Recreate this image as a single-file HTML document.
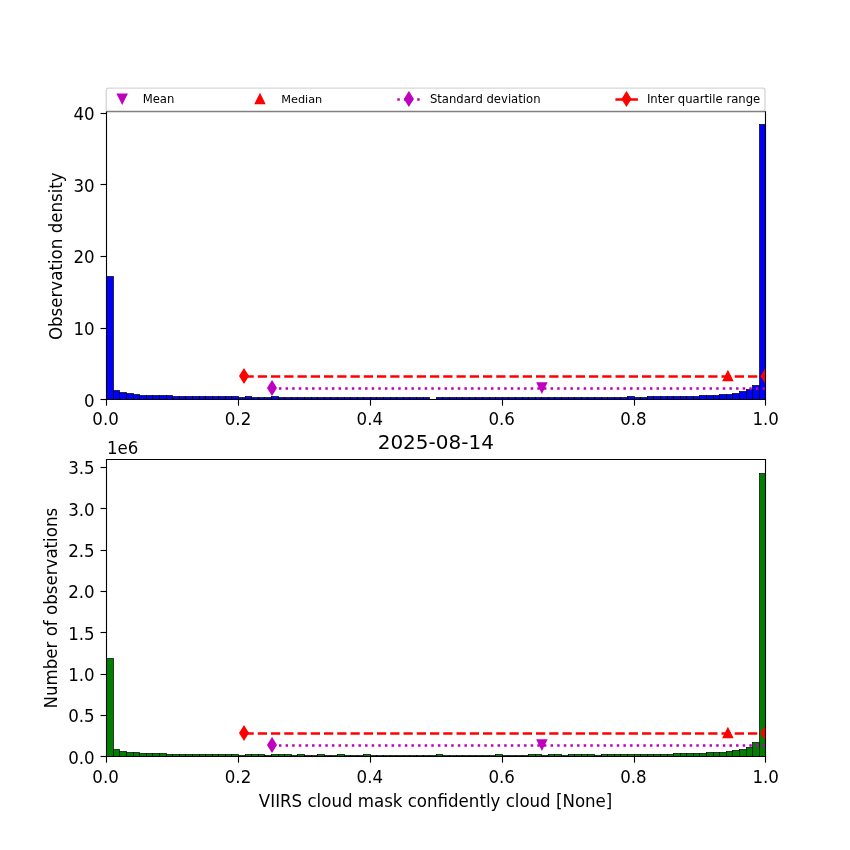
<!DOCTYPE html>
<html lang="en"><head><meta charset="utf-8"><title>VIIRS cloud mask confidently cloud histogram</title>
<style>html,body{margin:0;padding:0;background:#fff;overflow:hidden}svg{display:block}text{font-family:'DejaVu Sans','Liberation Sans',sans-serif;fill:#000}</style></head><body>
<svg width="850" height="850" viewBox="0 0 850 850">
<rect x="0" y="0" width="850" height="850" fill="#fff"/>
<defs>
<clipPath id="c1"><rect x="106.25" y="110.925" width="658.75" height="288.575"/></clipPath>
<clipPath id="c2"><rect x="106.25" y="459" width="658.75" height="297.5"/></clipPath>
</defs>
<g fill="#0000ff" stroke="#000" stroke-width="0.694" stroke-linejoin="miter" clip-path="url(#c1)">
<rect x="106.5" y="276.5" width="7.0" height="123.0"/>
<rect x="113.5" y="390.5" width="6.0" height="9.0"/>
<rect x="119.5" y="392.5" width="7.0" height="7.0"/>
<rect x="126.5" y="393.5" width="7.0" height="6.0"/>
<rect x="133.5" y="394.5" width="6.0" height="5.0"/>
<rect x="139.5" y="395.5" width="7.0" height="4.0"/>
<rect x="146.5" y="395.5" width="6.0" height="4.0"/>
<rect x="152.5" y="395.5" width="7.0" height="4.0"/>
<rect x="159.5" y="395.5" width="7.0" height="4.0"/>
<rect x="166.5" y="395.5" width="6.0" height="4.0"/>
<rect x="172.5" y="396.5" width="7.0" height="3.0"/>
<rect x="179.5" y="396.5" width="6.0" height="3.0"/>
<rect x="185.5" y="396.5" width="7.0" height="3.0"/>
<rect x="192.5" y="396.5" width="7.0" height="3.0"/>
<rect x="199.5" y="396.5" width="6.0" height="3.0"/>
<rect x="205.5" y="396.5" width="7.0" height="3.0"/>
<rect x="212.5" y="396.5" width="6.0" height="3.0"/>
<rect x="218.5" y="396.5" width="7.0" height="3.0"/>
<rect x="225.5" y="396.5" width="6.0" height="3.0"/>
<rect x="231.5" y="396.5" width="7.0" height="3.0"/>
<rect x="238.5" y="397.5" width="7.0" height="2.0"/>
<rect x="245.5" y="396.5" width="6.0" height="3.0"/>
<rect x="251.5" y="397.5" width="7.0" height="2.0"/>
<rect x="258.5" y="397.5" width="6.0" height="2.0"/>
<rect x="264.5" y="397.5" width="7.0" height="2.0"/>
<rect x="271.5" y="396.5" width="7.0" height="3.0"/>
<rect x="278.5" y="397.5" width="6.0" height="2.0"/>
<rect x="284.5" y="397.5" width="7.0" height="2.0"/>
<rect x="291.5" y="397.5" width="6.0" height="2.0"/>
<rect x="297.5" y="397.5" width="7.0" height="2.0"/>
<rect x="304.5" y="397.5" width="7.0" height="2.0"/>
<rect x="311.5" y="397.5" width="6.0" height="2.0"/>
<rect x="317.5" y="397.5" width="7.0" height="2.0"/>
<rect x="324.5" y="397.5" width="6.0" height="2.0"/>
<rect x="330.5" y="397.5" width="7.0" height="2.0"/>
<rect x="337.5" y="397.5" width="7.0" height="2.0"/>
<rect x="344.5" y="397.5" width="6.0" height="2.0"/>
<rect x="350.5" y="397.5" width="7.0" height="2.0"/>
<rect x="357.5" y="397.5" width="6.0" height="2.0"/>
<rect x="363.5" y="397.5" width="7.0" height="2.0"/>
<rect x="370.5" y="397.5" width="6.0" height="2.0"/>
<rect x="376.5" y="397.5" width="7.0" height="2.0"/>
<rect x="383.5" y="397.5" width="7.0" height="2.0"/>
<rect x="390.5" y="397.5" width="6.0" height="2.0"/>
<rect x="396.5" y="397.5" width="7.0" height="2.0"/>
<rect x="403.5" y="397.5" width="6.0" height="2.0"/>
<rect x="409.5" y="397.5" width="7.0" height="2.0"/>
<rect x="416.5" y="397.5" width="7.0" height="2.0"/>
<rect x="423.5" y="397.5" width="6.0" height="2.0"/>
<rect x="436.5" y="397.5" width="6.0" height="2.0"/>
<rect x="442.5" y="397.5" width="7.0" height="2.0"/>
<rect x="449.5" y="397.5" width="7.0" height="2.0"/>
<rect x="456.5" y="397.5" width="6.0" height="2.0"/>
<rect x="462.5" y="397.5" width="7.0" height="2.0"/>
<rect x="469.5" y="397.5" width="6.0" height="2.0"/>
<rect x="475.5" y="397.5" width="7.0" height="2.0"/>
<rect x="482.5" y="397.5" width="7.0" height="2.0"/>
<rect x="489.5" y="397.5" width="6.0" height="2.0"/>
<rect x="495.5" y="397.5" width="7.0" height="2.0"/>
<rect x="502.5" y="397.5" width="6.0" height="2.0"/>
<rect x="508.5" y="397.5" width="7.0" height="2.0"/>
<rect x="515.5" y="397.5" width="7.0" height="2.0"/>
<rect x="522.5" y="397.5" width="6.0" height="2.0"/>
<rect x="528.5" y="397.5" width="7.0" height="2.0"/>
<rect x="535.5" y="397.5" width="6.0" height="2.0"/>
<rect x="541.5" y="397.5" width="7.0" height="2.0"/>
<rect x="548.5" y="397.5" width="6.0" height="2.0"/>
<rect x="554.5" y="397.5" width="7.0" height="2.0"/>
<rect x="561.5" y="397.5" width="7.0" height="2.0"/>
<rect x="568.5" y="397.5" width="6.0" height="2.0"/>
<rect x="574.5" y="397.5" width="7.0" height="2.0"/>
<rect x="581.5" y="397.5" width="6.0" height="2.0"/>
<rect x="587.5" y="397.5" width="7.0" height="2.0"/>
<rect x="594.5" y="397.5" width="7.0" height="2.0"/>
<rect x="601.5" y="397.5" width="6.0" height="2.0"/>
<rect x="607.5" y="397.5" width="7.0" height="2.0"/>
<rect x="614.5" y="397.5" width="6.0" height="2.0"/>
<rect x="620.5" y="397.5" width="7.0" height="2.0"/>
<rect x="627.5" y="396.5" width="7.0" height="3.0"/>
<rect x="634.5" y="397.5" width="6.0" height="2.0"/>
<rect x="640.5" y="397.5" width="7.0" height="2.0"/>
<rect x="647.5" y="396.5" width="6.0" height="3.0"/>
<rect x="653.5" y="396.5" width="7.0" height="3.0"/>
<rect x="660.5" y="396.5" width="7.0" height="3.0"/>
<rect x="667.5" y="396.5" width="6.0" height="3.0"/>
<rect x="673.5" y="396.5" width="7.0" height="3.0"/>
<rect x="680.5" y="396.5" width="6.0" height="3.0"/>
<rect x="686.5" y="396.5" width="7.0" height="3.0"/>
<rect x="693.5" y="396.5" width="6.0" height="3.0"/>
<rect x="699.5" y="395.5" width="7.0" height="4.0"/>
<rect x="706.5" y="395.5" width="7.0" height="4.0"/>
<rect x="713.5" y="395.5" width="6.0" height="4.0"/>
<rect x="719.5" y="394.5" width="7.0" height="5.0"/>
<rect x="726.5" y="394.5" width="6.0" height="5.0"/>
<rect x="732.5" y="393.5" width="7.0" height="6.0"/>
<rect x="739.5" y="391.5" width="7.0" height="8.0"/>
<rect x="746.5" y="389.5" width="6.0" height="10.0"/>
<rect x="752.5" y="385.5" width="7.0" height="14.0"/>
<rect x="759.5" y="124.5" width="6.0" height="275.0"/>
</g>
<g clip-path="url(#c1)">
<path d="M541.90 392.35L537.25 383.05L546.55 383.05Z" fill="#bf00bf" stroke="#bf00bf" stroke-width="1.389" stroke-linejoin="miter" stroke-miterlimit="10"/>
<path d="M727.90 371.35L723.25 380.65L732.55 380.65Z" fill="#ff0000" stroke="#ff0000" stroke-width="1.389" stroke-linejoin="miter" stroke-miterlimit="10"/>
<path d="M272.30 388.50H811.53" fill="none" stroke="#bf00bf" stroke-width="2.50" stroke-dasharray="2.5 4.125"/>
<path d="M272.00 381.20L276.20 387.90L272.00 394.60L267.80 387.90Z" fill="#bf00bf" stroke="#bf00bf" stroke-width="1.389" stroke-linejoin="miter" stroke-miterlimit="10"/>
<path d="M244.50 376.40H765.39" fill="none" stroke="#ff0000" stroke-width="2.50" stroke-dasharray="9.25 4"/>
<path d="M244.00 369.30L248.20 376.00L244.00 382.70L239.80 376.00Z" fill="#ff0000" stroke="#ff0000" stroke-width="1.389" stroke-linejoin="miter" stroke-miterlimit="10"/>
<path d="M765.39 369.30L769.59 376.00L765.39 382.70L761.19 376.00Z" fill="#ff0000" stroke="#ff0000" stroke-width="1.389" stroke-linejoin="miter" stroke-miterlimit="10"/>
</g>
<g stroke="#000" stroke-width="1.111" fill="none" stroke-linecap="square">
<path d="M106.5 111.5V399.5"/>
<path d="M765.5 111.5V399.5"/>
<path d="M106.5 399.5H765.5"/>
<path d="M106.5 111.5H765.5" stroke="#4e4e4e"/>
</g>
<g stroke="#000" stroke-width="1.111" fill="none">
<path d="M106.5 399.5V405.7"/>
<path d="M238.5 399.5V405.7"/>
<path d="M370.5 399.5V405.7"/>
<path d="M502.5 399.5V405.7"/>
<path d="M634.5 399.5V405.7"/>
<path d="M765.5 399.5V405.7"/>
<path d="M100.5 399.5H106.5"/>
<path d="M100.5 328.5H106.5"/>
<path d="M100.5 256.5H106.5"/>
<path d="M100.5 184.5H106.5"/>
<path d="M100.5 113.5H106.5"/>
</g>
<g font-size="16.667px">
<text transform="translate(105.55 425.00) scale(1 1.050)" text-anchor="middle">0.0</text>
<text transform="translate(237.98 425.00) scale(1 1.050)" text-anchor="middle">0.2</text>
<text transform="translate(369.81 425.00) scale(1 1.050)" text-anchor="middle">0.4</text>
<text transform="translate(501.63 425.00) scale(1 1.050)" text-anchor="middle">0.6</text>
<text transform="translate(633.46 425.00) scale(1 1.050)" text-anchor="middle">0.8</text>
<text transform="translate(765.69 425.00) scale(1 1.050)" text-anchor="middle">1.0</text>
<text transform="translate(94.7 407.00) scale(1 1.050)" text-anchor="end">0</text>
<text transform="translate(94.7 335.00) scale(1 1.050)" text-anchor="end">10</text>
<text transform="translate(94.7 263.00) scale(1 1.050)" text-anchor="end">20</text>
<text transform="translate(94.7 192.00) scale(1 1.050)" text-anchor="end">30</text>
<text transform="translate(94.7 120.00) scale(1 1.050)" text-anchor="end">40</text>
</g>
<g fill="#008000" stroke="#000" stroke-width="0.694" stroke-linejoin="miter" clip-path="url(#c2)">
<rect x="106.5" y="658.5" width="7.0" height="98.0"/>
<rect x="113.5" y="749.5" width="6.0" height="7.0"/>
<rect x="119.5" y="751.5" width="7.0" height="5.0"/>
<rect x="126.5" y="752.5" width="7.0" height="4.0"/>
<rect x="133.5" y="752.5" width="6.0" height="4.0"/>
<rect x="139.5" y="753.5" width="7.0" height="3.0"/>
<rect x="146.5" y="753.5" width="6.0" height="3.0"/>
<rect x="152.5" y="753.5" width="7.0" height="3.0"/>
<rect x="159.5" y="753.5" width="7.0" height="3.0"/>
<rect x="166.5" y="754.5" width="6.0" height="2.0"/>
<rect x="172.5" y="754.5" width="7.0" height="2.0"/>
<rect x="179.5" y="754.5" width="6.0" height="2.0"/>
<rect x="185.5" y="754.5" width="7.0" height="2.0"/>
<rect x="192.5" y="754.5" width="7.0" height="2.0"/>
<rect x="199.5" y="754.5" width="6.0" height="2.0"/>
<rect x="205.5" y="754.5" width="7.0" height="2.0"/>
<rect x="212.5" y="754.5" width="6.0" height="2.0"/>
<rect x="218.5" y="754.5" width="7.0" height="2.0"/>
<rect x="225.5" y="754.5" width="6.0" height="2.0"/>
<rect x="231.5" y="754.5" width="7.0" height="2.0"/>
<rect x="238.5" y="755.5" width="7.0" height="1.0"/>
<rect x="245.5" y="754.5" width="6.0" height="2.0"/>
<rect x="251.5" y="754.5" width="7.0" height="2.0"/>
<rect x="258.5" y="754.5" width="6.0" height="2.0"/>
<rect x="264.5" y="755.5" width="7.0" height="1.0"/>
<rect x="271.5" y="754.5" width="7.0" height="2.0"/>
<rect x="278.5" y="754.5" width="6.0" height="2.0"/>
<rect x="284.5" y="754.5" width="7.0" height="2.0"/>
<rect x="291.5" y="755.5" width="6.0" height="1.0"/>
<rect x="297.5" y="754.5" width="7.0" height="2.0"/>
<rect x="304.5" y="755.5" width="7.0" height="1.0"/>
<rect x="311.5" y="755.5" width="6.0" height="1.0"/>
<rect x="317.5" y="754.5" width="7.0" height="2.0"/>
<rect x="324.5" y="755.5" width="6.0" height="1.0"/>
<rect x="330.5" y="755.5" width="7.0" height="1.0"/>
<rect x="337.5" y="754.5" width="7.0" height="2.0"/>
<rect x="344.5" y="755.5" width="6.0" height="1.0"/>
<rect x="350.5" y="755.5" width="7.0" height="1.0"/>
<rect x="357.5" y="755.5" width="6.0" height="1.0"/>
<rect x="363.5" y="754.5" width="7.0" height="2.0"/>
<rect x="370.5" y="755.5" width="6.0" height="1.0"/>
<rect x="376.5" y="755.5" width="7.0" height="1.0"/>
<rect x="383.5" y="755.5" width="7.0" height="1.0"/>
<rect x="390.5" y="755.5" width="6.0" height="1.0"/>
<rect x="396.5" y="755.5" width="7.0" height="1.0"/>
<rect x="403.5" y="755.5" width="6.0" height="1.0"/>
<rect x="409.5" y="755.5" width="7.0" height="1.0"/>
<rect x="416.5" y="755.5" width="7.0" height="1.0"/>
<rect x="423.5" y="755.5" width="6.0" height="1.0"/>
<rect x="429.5" y="755.5" width="7.0" height="1.0"/>
<rect x="436.5" y="754.5" width="6.0" height="2.0"/>
<rect x="442.5" y="755.5" width="7.0" height="1.0"/>
<rect x="449.5" y="755.5" width="7.0" height="1.0"/>
<rect x="456.5" y="755.5" width="6.0" height="1.0"/>
<rect x="462.5" y="755.5" width="7.0" height="1.0"/>
<rect x="469.5" y="755.5" width="6.0" height="1.0"/>
<rect x="475.5" y="755.5" width="7.0" height="1.0"/>
<rect x="482.5" y="755.5" width="7.0" height="1.0"/>
<rect x="489.5" y="755.5" width="6.0" height="1.0"/>
<rect x="495.5" y="754.5" width="7.0" height="2.0"/>
<rect x="502.5" y="755.5" width="6.0" height="1.0"/>
<rect x="508.5" y="755.5" width="7.0" height="1.0"/>
<rect x="515.5" y="755.5" width="7.0" height="1.0"/>
<rect x="522.5" y="755.5" width="6.0" height="1.0"/>
<rect x="528.5" y="754.5" width="7.0" height="2.0"/>
<rect x="535.5" y="754.5" width="6.0" height="2.0"/>
<rect x="541.5" y="755.5" width="7.0" height="1.0"/>
<rect x="548.5" y="754.5" width="6.0" height="2.0"/>
<rect x="554.5" y="754.5" width="7.0" height="2.0"/>
<rect x="561.5" y="755.5" width="7.0" height="1.0"/>
<rect x="568.5" y="754.5" width="6.0" height="2.0"/>
<rect x="574.5" y="754.5" width="7.0" height="2.0"/>
<rect x="581.5" y="754.5" width="6.0" height="2.0"/>
<rect x="587.5" y="754.5" width="7.0" height="2.0"/>
<rect x="594.5" y="755.5" width="7.0" height="1.0"/>
<rect x="601.5" y="754.5" width="6.0" height="2.0"/>
<rect x="607.5" y="754.5" width="7.0" height="2.0"/>
<rect x="614.5" y="754.5" width="6.0" height="2.0"/>
<rect x="620.5" y="754.5" width="7.0" height="2.0"/>
<rect x="627.5" y="754.5" width="7.0" height="2.0"/>
<rect x="634.5" y="754.5" width="6.0" height="2.0"/>
<rect x="640.5" y="754.5" width="7.0" height="2.0"/>
<rect x="647.5" y="754.5" width="6.0" height="2.0"/>
<rect x="653.5" y="754.5" width="7.0" height="2.0"/>
<rect x="660.5" y="754.5" width="7.0" height="2.0"/>
<rect x="667.5" y="754.5" width="6.0" height="2.0"/>
<rect x="673.5" y="753.5" width="7.0" height="3.0"/>
<rect x="680.5" y="753.5" width="6.0" height="3.0"/>
<rect x="686.5" y="753.5" width="7.0" height="3.0"/>
<rect x="693.5" y="753.5" width="6.0" height="3.0"/>
<rect x="699.5" y="753.5" width="7.0" height="3.0"/>
<rect x="706.5" y="752.5" width="7.0" height="4.0"/>
<rect x="713.5" y="752.5" width="6.0" height="4.0"/>
<rect x="719.5" y="752.5" width="7.0" height="4.0"/>
<rect x="726.5" y="751.5" width="6.0" height="5.0"/>
<rect x="732.5" y="750.5" width="7.0" height="6.0"/>
<rect x="739.5" y="749.5" width="7.0" height="7.0"/>
<rect x="746.5" y="747.5" width="6.0" height="9.0"/>
<rect x="752.5" y="742.5" width="7.0" height="14.0"/>
<rect x="759.5" y="473.5" width="6.0" height="283.0"/>
</g>
<g clip-path="url(#c2)">
<path d="M541.90 749.35L537.25 740.05L546.55 740.05Z" fill="#bf00bf" stroke="#bf00bf" stroke-width="1.389" stroke-linejoin="miter" stroke-miterlimit="10"/>
<path d="M727.90 728.35L723.25 737.65L732.55 737.65Z" fill="#ff0000" stroke="#ff0000" stroke-width="1.389" stroke-linejoin="miter" stroke-miterlimit="10"/>
<path d="M272.30 745.50H811.53" fill="none" stroke="#bf00bf" stroke-width="2.50" stroke-dasharray="2.5 4.125"/>
<path d="M272.00 738.20L276.20 744.90L272.00 751.60L267.80 744.90Z" fill="#bf00bf" stroke="#bf00bf" stroke-width="1.389" stroke-linejoin="miter" stroke-miterlimit="10"/>
<path d="M244.50 733.40H765.39" fill="none" stroke="#ff0000" stroke-width="2.50" stroke-dasharray="9.25 4"/>
<path d="M244.00 726.30L248.20 733.00L244.00 739.70L239.80 733.00Z" fill="#ff0000" stroke="#ff0000" stroke-width="1.389" stroke-linejoin="miter" stroke-miterlimit="10"/>
<path d="M765.39 726.30L769.59 733.00L765.39 739.70L761.19 733.00Z" fill="#ff0000" stroke="#ff0000" stroke-width="1.389" stroke-linejoin="miter" stroke-miterlimit="10"/>
</g>
<g stroke="#000" stroke-width="1.111" fill="none" stroke-linecap="square">
<path d="M106.5 459.5V756.5"/>
<path d="M765.5 459.5V756.5"/>
<path d="M106.5 756.5H765.5"/>
<path d="M106.5 459.5H765.5" stroke="#000"/>
</g>
<g stroke="#000" stroke-width="1.111" fill="none">
<path d="M106.5 756.5V762.7"/>
<path d="M238.5 756.5V762.7"/>
<path d="M370.5 756.5V762.7"/>
<path d="M502.5 756.5V762.7"/>
<path d="M634.5 756.5V762.7"/>
<path d="M765.5 756.5V762.7"/>
<path d="M100.5 756.5H106.5"/>
<path d="M100.5 715.5H106.5"/>
<path d="M100.5 674.5H106.5"/>
<path d="M100.5 632.5H106.5"/>
<path d="M100.5 591.5H106.5"/>
<path d="M100.5 550.5H106.5"/>
<path d="M100.5 508.5H106.5"/>
<path d="M100.5 467.5H106.5"/>
</g>
<g font-size="16.667px">
<text transform="translate(105.55 783.00) scale(1 1.050)" text-anchor="middle">0.0</text>
<text transform="translate(237.98 783.00) scale(1 1.050)" text-anchor="middle">0.2</text>
<text transform="translate(369.81 783.00) scale(1 1.050)" text-anchor="middle">0.4</text>
<text transform="translate(501.63 783.00) scale(1 1.050)" text-anchor="middle">0.6</text>
<text transform="translate(633.46 783.00) scale(1 1.050)" text-anchor="middle">0.8</text>
<text transform="translate(765.69 783.00) scale(1 1.050)" text-anchor="middle">1.0</text>
<text transform="translate(94.7 764.00) scale(1 1.050)" text-anchor="end">0.0</text>
<text transform="translate(94.7 722.00) scale(1 1.050)" text-anchor="end">0.5</text>
<text transform="translate(94.7 681.00) scale(1 1.050)" text-anchor="end">1.0</text>
<text transform="translate(94.7 640.00) scale(1 1.050)" text-anchor="end">1.5</text>
<text transform="translate(94.7 598.00) scale(1 1.050)" text-anchor="end">2.0</text>
<text transform="translate(94.7 557.00) scale(1 1.050)" text-anchor="end">2.5</text>
<text transform="translate(94.7 516.00) scale(1 1.050)" text-anchor="end">3.0</text>
<text transform="translate(94.7 474.00) scale(1 1.050)" text-anchor="end">3.5</text>
</g>
<path d="M107 112.5H765" stroke="#000" stroke-opacity="0.13" stroke-width="1" fill="none"/>
<text font-size="16.667px" text-anchor="middle" transform="translate(62.0 256.2) rotate(-90) scale(1 1.05)">Observation density</text>
<text font-size="16.667px" text-anchor="middle" transform="translate(57.0 608.2) rotate(-90) scale(1 1.05)">Number of observations</text>
<text font-size="16.667px" text-anchor="middle" textLength="353.5" lengthAdjust="spacing" transform="translate(435.6 806.6) scale(1 1.05)">VIIRS cloud mask confidently cloud [None]</text>
<text font-size="16.667px" transform="translate(106.9 453.7) scale(1 1.05)">1e6</text>
<text font-size="20px" text-anchor="middle" x="435.8" y="449">2025-08-14</text>
<rect x="106.25" y="88.15" width="658.75" height="22.775" rx="2.3" ry="2.3" fill="#fff" fill-opacity="0.8" stroke="#ccc" stroke-opacity="0.8" stroke-width="1.389"/>
<path d="M122.17 103.55L117.52 94.25L126.82 94.25Z" fill="#bf00bf" stroke="#bf00bf" stroke-width="1.389" stroke-linejoin="miter" stroke-miterlimit="10"/>
<path d="M259.97 94.25L255.32 103.55L264.62 103.55Z" fill="#ff0000" stroke="#ff0000" stroke-width="1.389" stroke-linejoin="miter" stroke-miterlimit="10"/>
<path d="M397.30 99.40H420.44" fill="none" stroke="#bf00bf" stroke-width="2.5" stroke-dasharray="2.5 4.125"/>
<path d="M408.87 92.20L413.07 98.90L408.87 105.60L404.67 98.90Z" fill="#bf00bf" stroke="#bf00bf" stroke-width="1.389" stroke-linejoin="miter" stroke-miterlimit="10"/>
<path d="M615.40 99.40H638.54" fill="none" stroke="#ff0000" stroke-width="2.5" stroke-dasharray="9.25 4"/>
<path d="M626.47 92.20L630.67 98.90L626.47 105.60L622.27 98.90Z" fill="#ff0000" stroke="#ff0000" stroke-width="1.389" stroke-linejoin="miter" stroke-miterlimit="10"/>
<g font-size="11.63px">
<text x="142.70" y="102.70" font-size="11.63px">Mean</text>
<text x="281.20" y="102.70" font-size="11.30px">Median</text>
<text x="429.90" y="102.70" font-size="11.63px">Standard deviation</text>
<text x="646.90" y="102.70" font-size="11.63px">Inter quartile range</text>
</g>
</svg></body></html>
